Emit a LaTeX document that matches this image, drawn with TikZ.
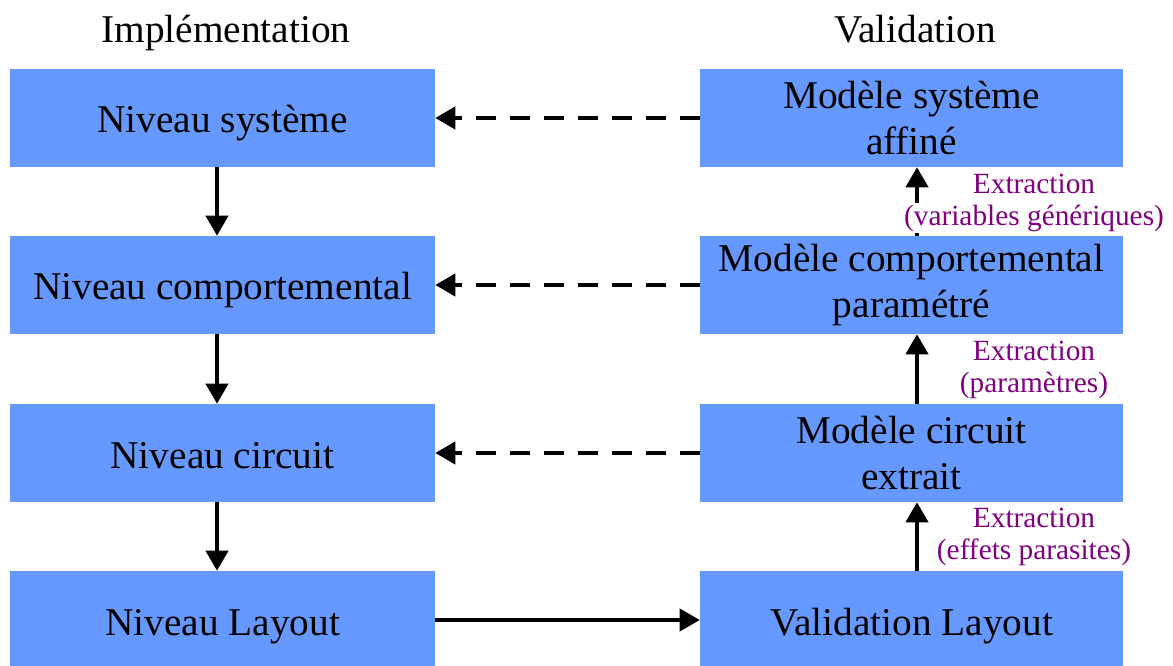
\documentclass[tikz,border=0pt]{standalone}
\usepackage{fontspec}
\setmainfont{Liberation Serif}
\usetikzlibrary{arrows.meta}
\definecolor{boxblue}{HTML}{6699FF}
\definecolor{lblpurple}{HTML}{800080}
\begin{document}
\begin{tikzpicture}[x=0.75pt,y=-0.75pt,
 box/.style={fill=boxblue, draw=none, inner sep=0pt, align=center, font=\fontsize{29.5}{34.5}\selectfont},
 lbox/.style={box, minimum width=318.75pt, minimum height=73.5pt},
 rbox/.style={box, minimum width=317.25pt, minimum height=73.5pt},
 one/.style={text height=22.5pt, text depth=0pt},
 arr/.style={line width=3pt, -{Triangle[length=15pt,width=16.5pt]}},
 darr/.style={arr, dash pattern=on 15pt off 10.5pt},
 lbl/.style={inner sep=1pt, text=lblpurple, font=\fontsize{22}{26}\selectfont},
 lblw/.style={lbl, fill=white},
 title/.style={inner sep=0pt, one, font=\fontsize{29.5}{34.5}\selectfont}]
\useasboundingbox (0,0) rectangle (1173,666);

\node[title] (t1) at (226,28) {Implémentation};
\node[title] (t2) at (915,28) {Validation};

\node[lbox,one] (s1) at (222.5,118) {Niveau système};
\node[lbox,one] (s2) at (222.5,285) {Niveau comportemental};
\node[lbox,one] (s3) at (222.5,453) {Niveau circuit};
\node[lbox,one] (s4) at (222.5,620) {Niveau Layout};

\node[rbox] (r1) at (911.5,118) {Modèle système\\affiné};
\node[rbox] (r2) at (911.5,285) {Modèle comportemental\\paramétré};
\node[rbox] (r3) at (911.5,453) {Modèle circuit\\extrait};
\node[rbox,one] (r4) at (911.5,620) {Validation Layout};

\coordinate (xl) at (217,0);
\coordinate (xr) at (917,0);

\draw[arr] (s1.south -| xl) -- (s2.north -| xl);
\draw[arr] (s2.south -| xl) -- (s3.north -| xl);
\draw[arr] (s3.south -| xl) -- (s4.north -| xl);

\draw[arr] (s4.east) -- (r4.west);
\draw[darr] (r1.west) -- (s1.east);
\draw[darr] (r2.west) -- (s2.east);
\draw[darr] (r3.west) -- (s3.east);

\draw[arr] (r4.north -| xr) -- (r3.south -| xr);
\draw[arr] (r3.north -| xr) -- (r2.south -| xr);
\draw[arr] (r2.north -| xr) -- (r1.south -| xr);

\node[lbl] (e1) at (1034,184) {Extraction};
\node[lblw] (v1) at (1034,218) {(variables génériques)};
\node[lbl] (e2) at (1034,351) {Extraction};
\node[lblw] (v2) at (1034,385) {(paramètres)};
\node[lbl] (e3) at (1034,518) {Extraction};
\node[lblw] (v3) at (1034,552) {(effets parasites)};
\end{tikzpicture}
\end{document}
